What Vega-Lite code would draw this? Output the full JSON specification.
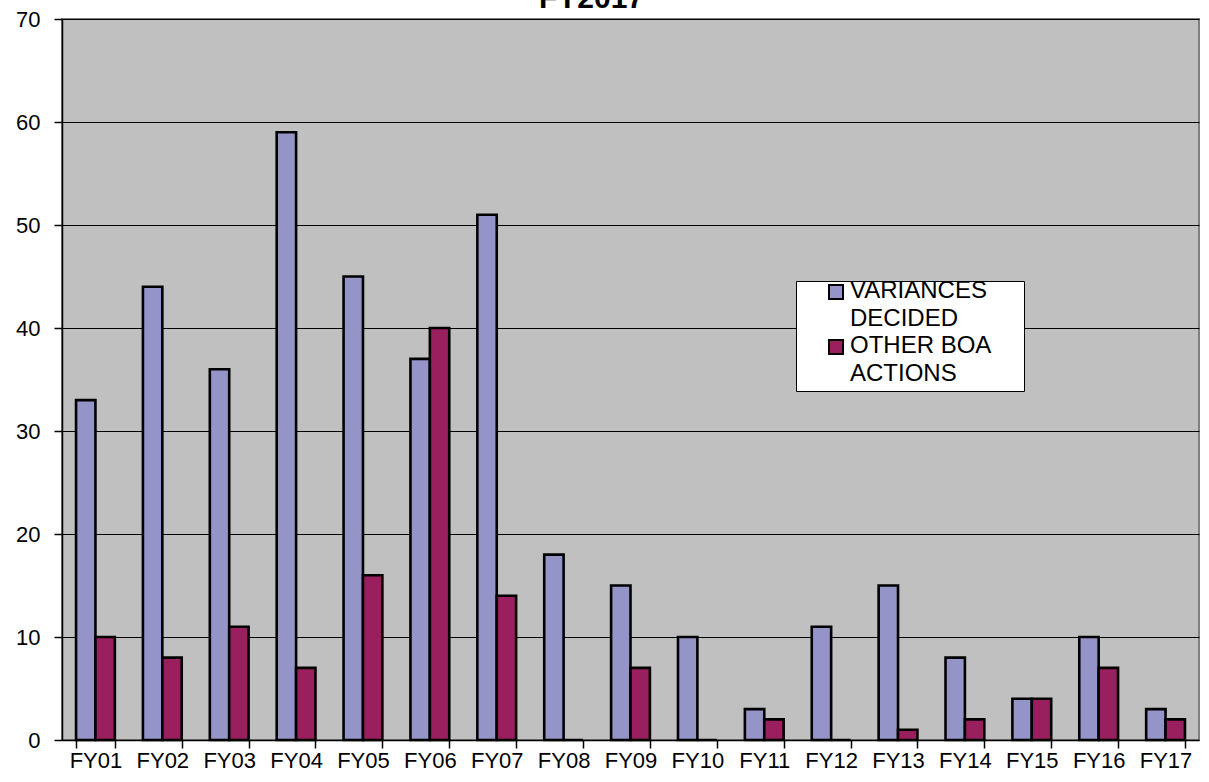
{
  "$schema": "https://vega.github.io/schema/vega-lite/v6.json",
  "width": 1137,
  "height": 721,
  "autosize": {"type": "none"},
  "padding": {"left": 62, "top": 19, "right": 10, "bottom": 42},
  "background": "white",
  "title": {
    "text": "FY2017",
    "font": "Liberation Sans",
    "fontSize": 30,
    "fontWeight": "bold",
    "color": "black",
    "anchor": "middle",
    "frame": "group",
    "baseline": "alphabetic",
    "offset": 2,
    "dy": 32,
    "dx": -39
  },
  "config": {
    "view": {"fill": "#C0C0C0", "stroke": "#808080", "strokeWidth": 2},
    "font": "Liberation Sans",
    "style": {"guide-label": {"lineHeight": 28}}
  },
  "data": {
    "values": [
      {"year": "FY01", "series": "VARIANCES DECIDED", "value": 33},
      {"year": "FY01", "series": "OTHER BOA ACTIONS", "value": 10},
      {"year": "FY02", "series": "VARIANCES DECIDED", "value": 44},
      {"year": "FY02", "series": "OTHER BOA ACTIONS", "value": 8},
      {"year": "FY03", "series": "VARIANCES DECIDED", "value": 36},
      {"year": "FY03", "series": "OTHER BOA ACTIONS", "value": 11},
      {"year": "FY04", "series": "VARIANCES DECIDED", "value": 59},
      {"year": "FY04", "series": "OTHER BOA ACTIONS", "value": 7},
      {"year": "FY05", "series": "VARIANCES DECIDED", "value": 45},
      {"year": "FY05", "series": "OTHER BOA ACTIONS", "value": 16},
      {"year": "FY06", "series": "VARIANCES DECIDED", "value": 37},
      {"year": "FY06", "series": "OTHER BOA ACTIONS", "value": 40},
      {"year": "FY07", "series": "VARIANCES DECIDED", "value": 51},
      {"year": "FY07", "series": "OTHER BOA ACTIONS", "value": 14},
      {"year": "FY08", "series": "VARIANCES DECIDED", "value": 18},
      {"year": "FY08", "series": "OTHER BOA ACTIONS", "value": 0},
      {"year": "FY09", "series": "VARIANCES DECIDED", "value": 15},
      {"year": "FY09", "series": "OTHER BOA ACTIONS", "value": 7},
      {"year": "FY10", "series": "VARIANCES DECIDED", "value": 10},
      {"year": "FY10", "series": "OTHER BOA ACTIONS", "value": 0},
      {"year": "FY11", "series": "VARIANCES DECIDED", "value": 3},
      {"year": "FY11", "series": "OTHER BOA ACTIONS", "value": 2},
      {"year": "FY12", "series": "VARIANCES DECIDED", "value": 11},
      {"year": "FY12", "series": "OTHER BOA ACTIONS", "value": 0},
      {"year": "FY13", "series": "VARIANCES DECIDED", "value": 15},
      {"year": "FY13", "series": "OTHER BOA ACTIONS", "value": 1},
      {"year": "FY14", "series": "VARIANCES DECIDED", "value": 8},
      {"year": "FY14", "series": "OTHER BOA ACTIONS", "value": 2},
      {"year": "FY15", "series": "VARIANCES DECIDED", "value": 4},
      {"year": "FY15", "series": "OTHER BOA ACTIONS", "value": 4},
      {"year": "FY16", "series": "VARIANCES DECIDED", "value": 10},
      {"year": "FY16", "series": "OTHER BOA ACTIONS", "value": 7},
      {"year": "FY17", "series": "VARIANCES DECIDED", "value": 3},
      {"year": "FY17", "series": "OTHER BOA ACTIONS", "value": 2}
    ]
  },
  "mark": {"type": "bar", "stroke": "black", "strokeWidth": 2.6},
  "encoding": {
    "x": {
      "field": "year",
      "type": "nominal",
      "sort": null,
      "scale": {"paddingInner": 0.42, "paddingOuter": 0.21},
      "axis": {
        "title": null,
        "labelAngle": 0,
        "labelFont": "Liberation Sans",
        "labelFontSize": 22,
        "labelColor": "black",
        "labelPadding": 2,
        "tickBand": "extent",
        "tickSize": 8,
        "tickColor": "black",
        "tickWidth": 1.5,
        "domainColor": "black",
        "domainWidth": 1.5,
        "grid": false
      }
    },
    "xOffset": {
      "field": "series",
      "type": "nominal",
      "sort": ["VARIANCES DECIDED", "OTHER BOA ACTIONS"],
      "scale": {"paddingInner": 0, "paddingOuter": 0}
    },
    "y": {
      "field": "value",
      "type": "quantitative",
      "scale": {"domain": [0, 70], "nice": false},
      "axis": {
        "title": null,
        "values": [0, 10, 20, 30, 40, 50, 60, 70],
        "labelFont": "Liberation Sans",
        "labelFontSize": 22,
        "labelColor": "black",
        "labelPadding": 14,
        "tickSize": 8,
        "tickColor": "black",
        "tickWidth": 1.5,
        "domainColor": "black",
        "domainWidth": 1.5,
        "grid": true,
        "gridColor": "black",
        "gridWidth": 1,
        "gridOpacity": 1
      }
    },
    "fill": {
      "field": "series",
      "type": "nominal",
      "sort": ["VARIANCES DECIDED", "OTHER BOA ACTIONS"],
      "scale": {"domain": ["VARIANCES DECIDED", "OTHER BOA ACTIONS"], "range": ["#9494C8", "#991F5E"]},
      "legend": {
        "title": null,
        "orient": "none",
        "legendX": 734,
        "legendY": 262,
        "fillColor": "white",
        "strokeColor": "black",
        "padding": 5,
        "symbolOffset": 23,
        "symbolType": "M-1,-1.85L1,-1.85L1,0.15L-1,0.15Z",
        "symbolSize": 196,
        "symbolStrokeColor": "black",
        "symbolStrokeWidth": 2,
        "symbolOpacity": 1,
        "labelFont": "Liberation Sans",
        "labelFontSize": 24,
        "labelColor": "black",
        "labelBaseline": "alphabetic",
        "labelOffset": 2,
        "labelLimit": 400,
        "rowPadding": 3,
        "labelExpr": "datum.label == 'VARIANCES DECIDED' ? ['VARIANCES', 'DECIDED'] : ['OTHER BOA    \u200b', 'ACTIONS']"
      }
    }
  }
}
